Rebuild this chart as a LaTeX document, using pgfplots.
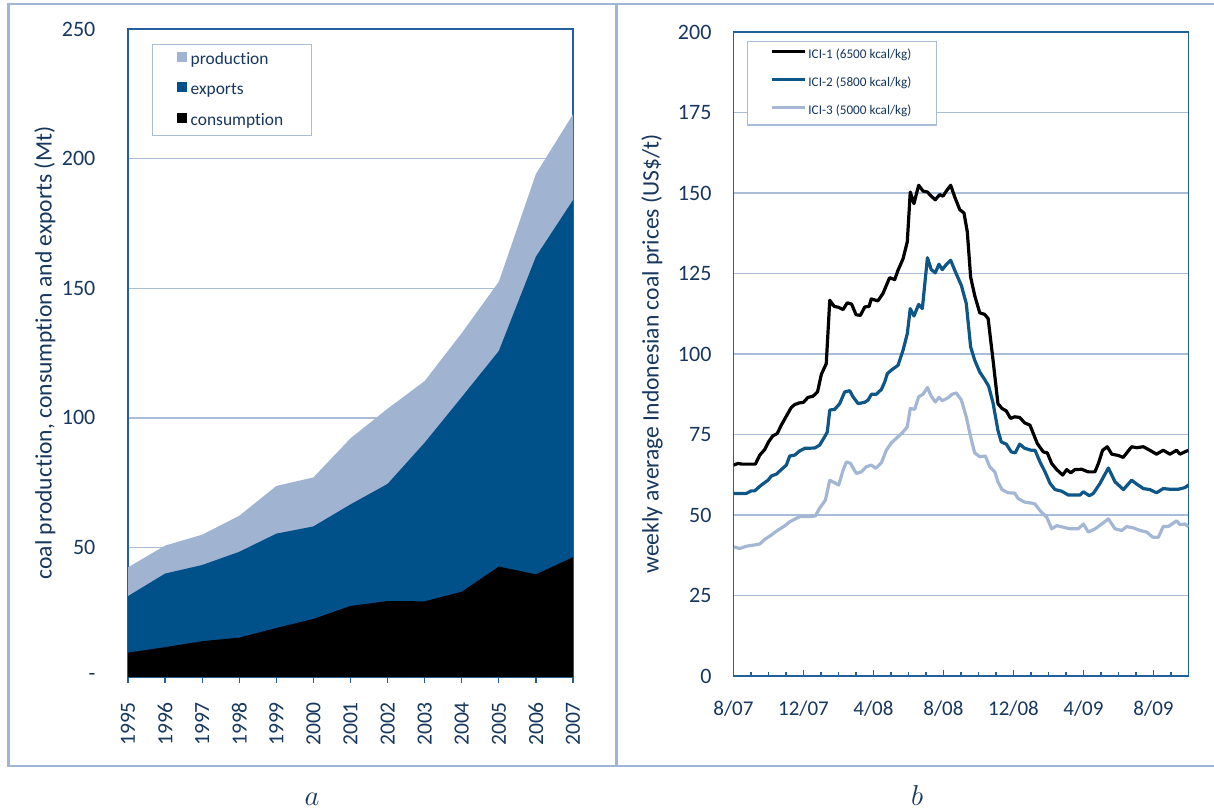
\documentclass[border=0pt]{standalone}
\usepackage{pgfplots}
\pgfplotsset{compat=1.18}
\usepackage{fontspec}
\setmainfont{Carlito}[RawFeature={-liga}]
\definecolor{prodc}{HTML}{A0B4D2}
\definecolor{expc}{HTML}{00508A}
\definecolor{axc}{HTML}{235F9C}
\definecolor{txtc}{HTML}{17375E}
\definecolor{gridc}{HTML}{A9BCD8}
\definecolor{framec}{HTML}{9FB5D5}
\definecolor{ici2}{HTML}{0E5588}
\definecolor{ici3}{HTML}{A3B7D5}
\pgfplotsset{
  common/.style={
    scale only axis, anchor=south west,
    axis line style={axc, line width=0.8pt},
    ymajorgrids, grid style={gridc, line width=0.7pt},
    tick label style={font=\fontsize{11}{13}\selectfont, text=txtc},
    ytick style={draw=none},
    xtick style={axc, line width=0.6pt},
  }
}
\begin{document}
\begin{tikzpicture}
\useasboundingbox (0,0) rectangle (607pt,404.5pt);
\draw[framec, line width=1.1pt] (4.25pt,402.5pt) rectangle (612pt,21.5pt);
\draw[framec, line width=1.1pt] (308.25pt,402.5pt) -- (308.25pt,21.5pt);
\node[text=txtc, font=\fontsize{14}{16}\selectfont, anchor=base, inner sep=0pt] at (156pt,2pt) {$a$};
\node[text=txtc, font=\fontsize{14}{16}\selectfont, anchor=base, inner sep=0pt] at (458.5pt,2pt) {$b$};

\begin{axis}[common, at={(64pt,66pt)}, width=222.5pt, height=324pt,
  xmin=1995, xmax=2007, ymin=0, ymax=250,
  xtick={1995,1996,1997,1998,1999,2000,2001,2002,2003,2004,2005,2006,2007},
  xticklabels={1995,1996,1997,1998,1999,2000,2001,2002,2003,2004,2005,2006,2007},
  xticklabel style={rotate=90, anchor=east, font=\fontsize{10.8}{12}\selectfont},
  xticklabel shift=6pt,
  tick align=outside, xtick pos=lower, major tick length=3pt,
  ytick={0,50,100,150,200,250}, yticklabels={-,50,100,150,200,250},
  yticklabel shift=9.8pt,
  every axis y label/.style={at={(axis description cs:0,0.5)}, xshift=-41.5pt, rotate=90, anchor=center, font=\fontsize{11.8}{14}\selectfont, text=txtc},
  ylabel={coal production, consumption and exports (Mt)},
  legend style={at={(0,1)}, anchor=north west, xshift=12pt, yshift=-7.5pt, draw=gridc, line width=0.7pt, font=\fontsize{8.7}{10}\selectfont, text=txtc, inner xsep=12pt, inner ysep=1.25pt, row sep=2.75pt, nodes={inner sep=2pt, text height=6.5pt, text depth=2pt}, cells={anchor=west}},
  legend image code/.code={\fill[#1] (0pt,-1pt) rectangle (5pt,4pt);},
]
\addplot[fill=prodc, draw=none] table {
1995 42.3
1996 50.7
1997 54.9
1998 62.2
1999 73.7
2000 77.0
2001 92.1
2002 103.5
2003 114.2
2004 132.7
2005 152.5
2006 194.1
2007 217.1
} \closedcycle;
\addlegendentry{production}
\addplot[fill=expc, draw=none] table {
1995 31.2
1996 39.9
1997 43.2
1998 48.3
1999 55.3
2000 58.1
2001 66.6
2002 74.5
2003 90.4
2004 108.0
2005 125.8
2006 162.2
2007 184.0
} \closedcycle;
\addlegendentry{exports}
\addplot[fill=black, draw=none] table {
1995 9.4
1996 11.5
1997 13.8
1998 15.2
1999 18.9
2000 22.4
2001 27.4
2002 29.3
2003 29.2
2004 32.9
2005 42.6
2006 39.6
2007 46.2
} \closedcycle;
\addlegendentry{consumption}
\end{axis}

\begin{axis}[common, at={(366.75pt,66.5pt)}, width=227.5pt, height=322pt,
  xmin=0, xmax=26, ymin=0, ymax=200,
  xtick={0,4,8,12,16,20,24},
  xticklabels={8/07,12/07,4/08,8/08,12/08,4/09,8/09},
  minor xtick={0,1,...,26},
  minor tick style={axc, line width=0.6pt},
  xticklabel style={font=\fontsize{10.5}{12}\selectfont},
  xticklabel shift=9pt,
  tick align=inside, xtick pos=lower, major tick length=3pt, minor tick length=2pt,
  ytick={0,25,50,75,100,125,150,175,200}, yticklabels={0,25,50,75,100,125,150,175,200},
  yticklabel shift=7.5pt,
  every axis y label/.style={at={(axis description cs:0,0.5)}, xshift=-40.75pt, rotate=90, anchor=center, font=\fontsize{11.8}{14}\selectfont, text=txtc},
  ylabel={weekly average Indonesian coal prices (US\$/t)},
  legend style={at={(0,1)}, anchor=north west, xshift=6.5pt, yshift=-4.35pt, draw=gridc, line width=0.7pt, font=\fontsize{6.6}{8}\selectfont, text=txtc, inner xsep=11.5pt, inner ysep=2.65pt, row sep=5.5pt, nodes={inner sep=1pt, text height=5pt, text depth=1.5pt}, cells={anchor=west}},
  legend image code/.code={\draw[#1] (0pt,1.8pt) -- (16.5pt,1.8pt);},
  every axis plot/.append style={line width=1.6pt, line join=round},
]
\addplot[black] table {
0.0 65.5
0.25 66
0.5 65.8
1.0 65.8
1.25 65.8
1.5 68.6
1.78 70.3
2.0 72.7
2.25 74.6
2.5 75.3
2.73 77.9
3.0 80.5
3.3 83.4
3.5 84.3
3.75 84.8
4.0 85
4.25 86.5
4.54 86.9
4.8 88.2
5.02 93.7
5.3 97
5.5 116.7
5.75 114.8
6.0 114.5
6.26 113.8
6.5 115.9
6.75 115.5
7.0 112.2
7.25 112
7.5 114.6
7.75 114.8
7.87 117.1
8.25 116.5
8.54 118.8
8.92 123.7
9.21 123.1
9.4 126
9.69 129.6
9.93 134.8
10.1 150.3
10.31 146.7
10.58 152.4
10.83 150.6
11.08 150.3
11.3 149
11.53 147.9
11.78 149.5
11.97 149
12.16 150.6
12.41 152.4
12.64 148.8
12.93 144.8
13.17 143.8
13.36 137.9
13.55 123.9
13.78 118.2
14.07 112.8
14.35 112.3
14.55 111
14.83 98.1
15.11 84.6
15.34 83.1
15.59 82.3
15.83 80
16.07 80.5
16.35 80.3
16.64 78.6
16.94 77.9
17.13 75.3
17.36 72.2
17.7 69.6
17.93 69.3
18.18 66
18.47 64.1
18.81 62.4
19.04 64.1
19.27 63.1
19.51 64.1
19.89 64.2
20.27 63.4
20.65 63.4
20.85 66
21.09 70.1
21.36 71.2
21.61 68.9
21.98 68.5
22.27 67.9
22.75 71.2
23.04 70.9
23.42 71.2
23.79 70.1
24.17 68.9
24.55 70.1
24.94 68.9
25.32 70.1
25.51 68.9
25.79 69.6
26.0 70.1
};
\addlegendentry{ICI-1 (6500 kcal/kg)}
\addplot[ici2] table {
0.03 56.7
0.73 56.7
1.02 57.5
1.21 57.5
1.59 59.3
1.97 60.8
2.16 62.1
2.45 62.7
2.73 64.1
3.02 65.5
3.21 68.3
3.5 68.6
3.78 69.9
4.07 70.7
4.64 70.8
4.92 71.7
5.21 74.3
5.36 75.8
5.5 82.6
5.78 82.8
6.07 84.6
6.35 88.2
6.64 88.6
6.83 86.7
7.12 84.6
7.5 85
7.69 85.7
7.88 87.5
8.16 87.5
8.45 89
8.64 91.3
8.79 93.9
9.02 95
9.4 96.5
9.69 101.2
9.93 106.3
10.1 114.1
10.31 111.8
10.58 115.4
10.79 114.1
11.08 129.9
11.3 126.2
11.53 125.2
11.74 127.9
11.93 126.2
12.16 127.8
12.41 129.1
12.68 125.5
13.02 121.3
13.3 115.7
13.55 102.2
13.78 98.1
14.07 94.4
14.35 92.1
14.58 90
14.83 84.8
15.11 76.3
15.3 72.7
15.59 72
15.87 69.6
16.1 69.3
16.35 72
16.64 70.7
17.02 70.1
17.23 70.1
17.51 66.5
17.8 63.4
18.09 59.8
18.37 57.9
18.75 57.4
19.13 56.2
19.8 56.2
19.99 57.2
20.33 56
20.56 56.7
20.94 59.8
21.42 64.6
21.8 60.3
22.28 57.9
22.75 60.8
23.04 59.6
23.42 58.2
23.79 57.9
24.17 56.9
24.55 58.2
24.94 58
25.42 58
25.79 58.5
26.0 59.3
};
\addlegendentry{ICI-2 (5800 kcal/kg)}
\addplot[ici3] table {
0.03 40.1
0.35 39.6
0.73 40.3
1.21 40.7
1.5 41
1.78 42.4
2.16 43.8
2.54 45.3
2.92 46.6
3.21 47.9
3.5 48.7
3.78 49.5
4.26 49.5
4.68 49.7
4.92 52.1
5.25 54.6
5.5 60.8
5.78 60
6.01 59.3
6.26 63.9
6.45 66.5
6.69 66
7.02 62.9
7.3 63.4
7.59 65
7.88 65.5
8.12 64.5
8.45 66.2
8.73 70.1
9.02 72.4
9.4 74.3
9.69 75.8
9.93 77.4
10.1 83.1
10.35 82.8
10.58 86.7
10.83 87.5
11.08 89.6
11.3 86.9
11.53 85.1
11.74 86.5
11.93 85.5
12.26 86.4
12.49 87.5
12.73 87.9
13.02 85.7
13.3 80.5
13.55 74.3
13.78 69.3
14.07 68.1
14.39 68.3
14.64 65
14.93 63.4
15.11 60.3
15.34 57.9
15.69 56.9
16.07 56.8
16.26 55.1
16.64 54
17.02 53.7
17.23 53.4
17.51 51.4
17.9 49.3
18.18 45.7
18.47 46.7
18.85 46.2
19.23 45.7
19.7 45.7
19.99 47.2
20.28 44.7
20.66 45.7
21.04 47.2
21.42 48.8
21.8 45.7
22.18 45.2
22.47 46.4
22.85 46
23.23 45.2
23.61 44.7
23.96 43.1
24.28 43.1
24.55 46.4
24.84 46.4
25.32 48.2
25.51 47
25.79 47.2
26.0 46.4
};
\addlegendentry{ICI-3 (5000 kcal/kg)}
\end{axis}
\end{tikzpicture}
\end{document}
